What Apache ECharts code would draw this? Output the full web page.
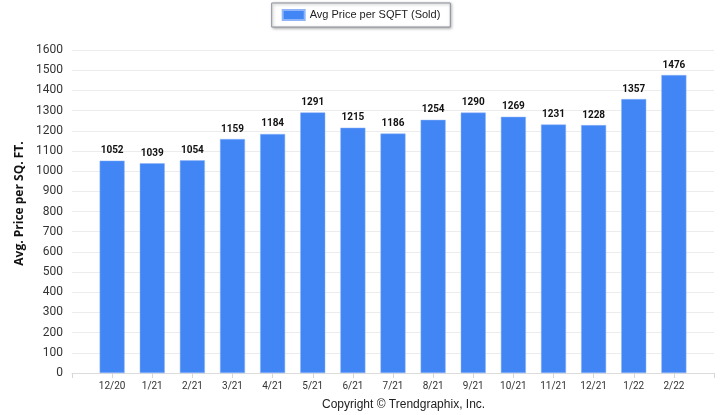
<!DOCTYPE html>
<html>
<head>
<meta charset="utf-8">
<script src="https://cdn.jsdelivr.net/npm/echarts@6/dist/echarts.min.js"></script>
<style>
  html, body { margin: 0; padding: 0; background: #fff; }
  #chart { width: 722px; height: 415px; }
</style>
</head>
<body>
<div id="chart"></div>
<script>
// Monthly average sold price per square foot
const months = ['12/20', '1/21', '2/21', '3/21', '4/21', '5/21', '6/21', '7/21',
                '8/21', '9/21', '10/21', '11/21', '12/21', '1/22', '2/22'];
const avgPriceSold = [1052, 1039, 1054, 1159, 1184, 1291, 1215, 1186,
                      1254, 1290, 1269, 1231, 1228, 1357, 1476];
const seriesName = 'Avg Price per SQFT (Sold)';
const yAxisTitle = 'Avg. Price per SQ. FT.';
const footerText = 'Copyright \u00A9 Trendgraphix, Inc.';

// Empty slots at each end give the axis a half-band margin on both sides
const axisCats = [''].concat(months, ['']);
const axisVals = [null].concat(avgPriceSold, [null]);

const labelFont = "'Roboto', sans-serif";

const chart = echarts.init(document.getElementById('chart'), null, { renderer: 'canvas' });
chart.setOption({
  animation: false,
  backgroundColor: '#ffffff',
  legend: {
    top: 3,
    left: 'center',
    itemWidth: 22,
    itemHeight: 10,
    itemGap: 6,
    padding: [6, 10, 6, 10],
    borderColor: '#8a8f99',
    borderWidth: 1,
    backgroundColor: '#ffffff',
    shadowColor: 'rgba(0,0,0,0.35)',
    shadowBlur: 3,
    shadowOffsetX: 1,
    shadowOffsetY: 1,
    icon: 'rect',
    textStyle: { fontFamily: 'Liberation Sans, Arial, sans-serif', fontSize: 11, color: '#222' },
    data: [seriesName]
  },
  grid: { left: 72, right: 8, top: 50, bottom: 42 },
  xAxis: {
    type: 'category',
    boundaryGap: false,
    data: axisCats,
    axisLine: { lineStyle: { color: '#dcdcdc' } },
    axisTick: { show: true, length: 5, lineStyle: { color: '#d6d6d6' } },
    axisLabel: { fontFamily: labelFont, fontSize: 10, color: '#333', margin: 8 }
  },
  yAxis: {
    type: 'value',
    min: 0,
    max: 1600,
    interval: 100,
    name: yAxisTitle,
    nameLocation: 'middle',
    nameGap: 46,
    nameRotate: 90,
    nameTextStyle: {
      fontFamily: "'Open Sans', sans-serif",
      fontWeight: 'bold',
      fontSize: 12,
      color: '#111',
      padding: [0, 0, 0, 16]
    },
    axisLine: { show: false },
    axisTick: { show: false },
    axisLabel: {
      fontFamily: labelFont,
      fontSize: 12,
      color: '#333',
      margin: 9,
      formatter: function (v) { return String(v); }
    },
    splitLine: { lineStyle: { color: '#ececec' } }
  },
  series: [{
    name: seriesName,
    type: 'bar',
    data: axisVals,
    barWidth: 25,
    itemStyle: { color: '#4285F4', borderColor: '#8fb4f8', borderWidth: 0.5 },
    label: {
      show: true,
      position: 'top',
      distance: 5,
      fontFamily: labelFont,
      fontWeight: 'bold',
      fontSize: 10,
      color: '#111'
    }
  }],
  graphic: [{
    type: 'text',
    left: 322,
    top: 399,
    style: { text: footerText, font: "12px 'Liberation Sans', Arial, sans-serif", fill: '#222' }
  }]
});
</script>
</body>
</html>
